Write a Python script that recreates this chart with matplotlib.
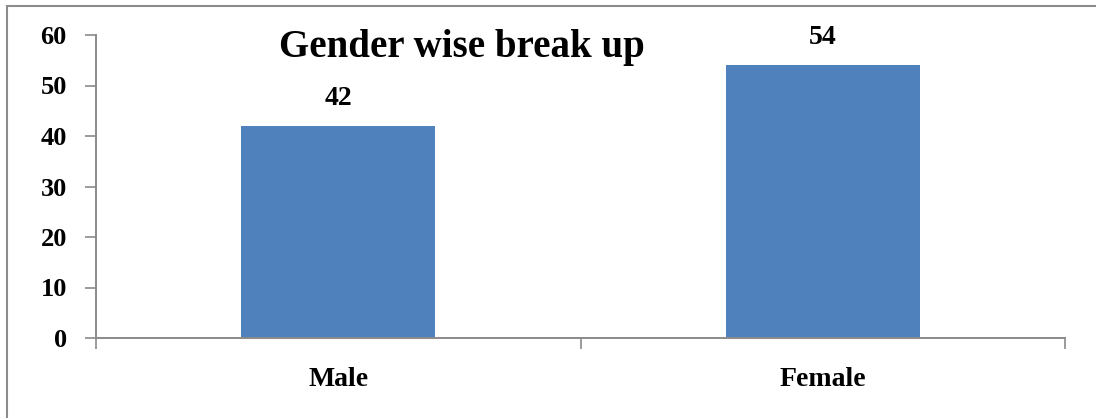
import matplotlib
matplotlib.use("Agg")
import matplotlib.pyplot as plt
from matplotlib.patches import Rectangle

categories = ["Male", "Female"]
counts = [42, 54]
y_ticks = [0, 10, 20, 30, 40, 50, 60]
title = "Gender wise break up"

W, H = 1096, 418
fig = plt.figure(figsize=(W / 100, H / 100), dpi=100)
fig.patch.set_facecolor("white")

# outer chart frame (top and left edges visible)
fig.add_artist(Rectangle((7 / W, -0.1), 1.2, (H - 6) / H + 0.1, transform=fig.transFigure,
                         fill=False, edgecolor="#8c8c8c", linewidth=1.5))

ax = fig.add_axes([96 / W, (H - 338) / H, (1065 - 96) / W, (338 - 35) / H])
serif = ["Liberation Serif", "DejaVu Serif"]
axis_color = "#8a8a8a"

x = list(range(len(categories)))
ax.bar(x, counts, width=0.4, color="#4F81BD", zorder=2)
ax.set_xlim(-0.5, len(categories) - 0.5)
ax.set_ylim(0, 60)
ax.set_yticks(y_ticks)
ax.set_yticklabels([str(v) for v in y_ticks], fontfamily=serif, fontweight="bold", fontsize=19)

# category ticks sit on the boundaries between categories
ax.set_xticks([i - 0.5 for i in range(len(categories) + 1)])
ax.set_xticklabels([""] * (len(categories) + 1))
for i, name in enumerate(categories):
    ax.text(i, -8.3, name, ha="center", va="center", fontfamily=serif,
            fontweight="bold", fontsize=20)

for i, v in enumerate(counts):
    ax.text(i, v + 3, str(v), ha="center", va="bottom", fontfamily=serif,
            fontweight="bold", fontsize=20)

ax.tick_params(axis="y", direction="out", length=8, width=1.2, color=axis_color, pad=13)
ax.tick_params(axis="x", direction="out", length=8, width=1.2, color=axis_color)
for side in ["top", "right"]:
    ax.spines[side].set_visible(False)
for side in ["left", "bottom"]:
    ax.spines[side].set_color(axis_color)
    ax.spines[side].set_linewidth(1.4)

fig.text(462 / W, 1 - 47 / H, title, ha="center", va="center", fontfamily=serif,
         fontweight="bold", fontsize=28)

fig.savefig("out.png", dpi=100, facecolor="white")
